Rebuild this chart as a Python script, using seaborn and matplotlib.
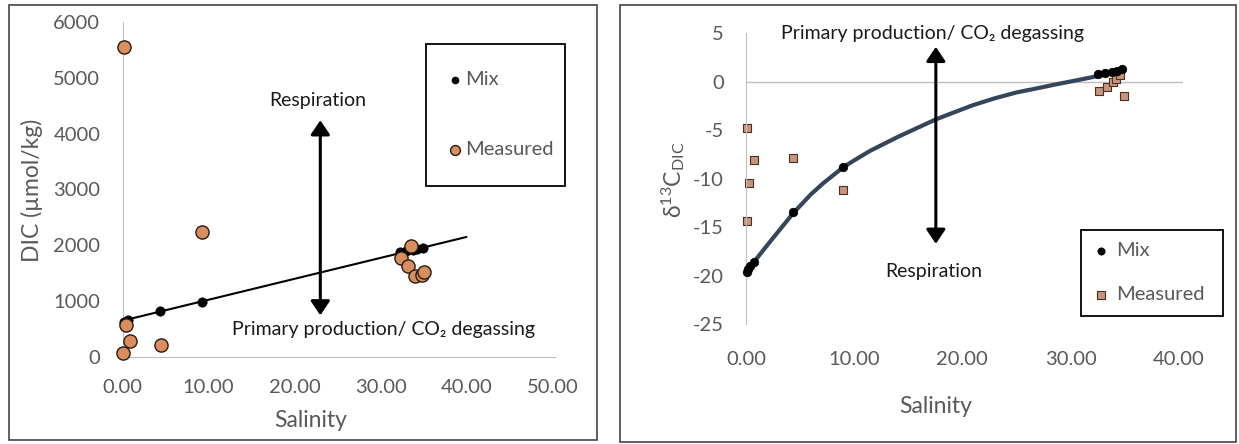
import matplotlib
matplotlib.use("Agg")
import matplotlib.pyplot as plt
from matplotlib.patches import Rectangle
import seaborn as sns

# ---- DIC versus salinity ----
dic_mix_sal = [0.2, 0.6, 4.4, 9.2, 32.3, 33.0, 33.8, 34.3, 34.9]
dic_mix = [620, 670, 820, 990, 1880, 1900, 1925, 1940, 1955]
dic_meas_sal = [0.2, 0.4, 0.9, 0.1, 4.5, 9.2, 32.4, 33.6, 33.2, 34.0, 34.8, 35.1]
dic_meas = [5550, 570, 290, 80, 220, 2230, 1770, 1990, 1630, 1450, 1460, 1530]
dic_trend_sal = [0, 40]
dic_trend = [650, 2150]

# ---- d13C-DIC versus salinity ----
d13_mix_sal = [0.1, 0.2, 0.4, 0.7, 4.3, 9.0, 32.5, 33.2, 33.8, 34.3, 34.8]
d13_mix = [-19.6, -19.3, -19.0, -18.6, -13.4, -8.8, 0.8, 0.9, 1.0, 1.1, 1.3]
d13_meas_sal = [0.07, 0.7, 0.3, 0.07, 4.3, 9.0, 32.6, 33.4, 33.9, 34.2, 34.6, 34.9]
d13_meas = [-4.8, -8.1, -10.4, -14.3, -7.9, -11.2, -1.0, -0.5, 0.0, 0.3, 0.7, -1.5]
curve_sal = [0, 1, 2.5, 4.4, 6, 7.2, 9, 10, 11.5, 14, 17.5, 19, 21, 23, 25, 27,
             28.5, 31, 33, 34.8]
curve_d13 = [-19.7, -18.2, -16.1, -13.5, -11.6, -10.4, -8.8, -8.1, -7.1, -5.7, -3.9,
             -3.25, -2.4, -1.7, -1.1, -0.65, -0.3, 0.25, 0.7, 1.2]

dic_ticks = [0, 1000, 2000, 3000, 4000, 5000, 6000]
d13_ticks = [-25, -20, -15, -10, -5, 0, 5]
sal_ticks_left = [0, 10, 20, 30, 40, 50]
sal_ticks_right = [0, 10, 20, 30, 40]

sns.set_style("white")
plt.rcParams["font.family"] = ["Lato", "DejaVu Sans"]
plt.rcParams["mathtext.fontset"] = "custom"
plt.rcParams["mathtext.rm"] = "Lato"
plt.rcParams["mathtext.it"] = "Lato:italic"

GREY_TXT = "#595959"
AXIS_GREY = "#bfbfbf"
TICK_FS = 14.5
LABEL_FS = 16.5
NOTE_FS = 14
ORANGE = "#d98e5f"
TAN = "#c6957b"

W, H = 1239, 444
fig = plt.figure(figsize=(W / 100, H / 100), dpi=100)

# panel frames
for x0, y0, x1, y1 in [(9, 5, 597, 440), (620, 5, 1236, 442)]:
    fig.add_artist(Rectangle((x0 / W, 1 - y1 / H), (x1 - x0) / W, (y1 - y0) / H,
                             transform=fig.transFigure, fill=False,
                             edgecolor="#444444", linewidth=1.2))

def style_axis(ax):
    for s in ax.spines.values():
        s.set_visible(False)
    ax.tick_params(axis="both", length=0, labelsize=TICK_FS, labelcolor=GREY_TXT)
    ax.set_facecolor("none")

# ---------------- left panel ----------------
ax1 = fig.add_axes([122.5 / W, 1 - 357 / H, 432.6 / W, 335 / H])
style_axis(ax1)
ax1.spines["left"].set_visible(True)
ax1.spines["bottom"].set_visible(True)
ax1.spines["left"].set_color(AXIS_GREY)
ax1.spines["bottom"].set_color(AXIS_GREY)

sns.lineplot(x=dic_trend_sal, y=dic_trend, ax=ax1, color="black", linewidth=1.5, zorder=2)
sns.scatterplot(x=dic_mix_sal, y=dic_mix, ax=ax1, color="black", s=45,
                edgecolor="black", linewidth=0.5, label="Mix", zorder=3, clip_on=False)
sns.scatterplot(x=dic_meas_sal, y=dic_meas, ax=ax1, color=ORANGE, s=90,
                edgecolor="#2a1a10", linewidth=1.0, label="Measured", zorder=4,
                clip_on=False)

ax1.set_xlim(0, 50.3)
ax1.set_ylim(0, 6000)
ax1.set_xticks(sal_ticks_left)
ax1.set_xticklabels([f"{v:.2f}" for v in sal_ticks_left])
ax1.set_yticks(dic_ticks)
ax1.set_yticklabels([str(v) for v in dic_ticks])
ax1.tick_params(axis="both", pad=16)

ax1.set_xlabel("Salinity", fontsize=LABEL_FS, color=GREY_TXT, va="center")
ax1.xaxis.set_label_coords(0.436, -0.191)
ax1.set_ylabel("DIC (µmol/kg)", fontsize=LABEL_FS, color=GREY_TXT, va="center")
ax1.yaxis.set_label_coords(-0.209, 0.4985)

ax1.annotate("", xy=(23, 4240), xytext=(23, 746),
             arrowprops=dict(arrowstyle="<|-|>,head_length=0.43,head_width=0.29",
                             lw=2.2, color="black", mutation_scale=20,
                             shrinkA=0, shrinkB=0))
ax1.text(22.7, 4593, "Respiration", fontsize=NOTE_FS, ha="center", va="center",
         color="#1a1a1a")
ax1.text(30.3, 500, "Primary production/ CO₂ degassing", fontsize=NOTE_FS,
         ha="center", va="center", color="#1a1a1a")

leg1 = ax1.legend(loc="upper left", bbox_to_anchor=(426 / W, 1 - 44 / H, 139 / W, 0),
                  bbox_transform=fig.transFigure, mode="expand", borderaxespad=0,
                  fontsize=TICK_FS, labelcolor=GREY_TXT, frameon=True, fancybox=False,
                  framealpha=1, edgecolor="black", borderpad=1.35, labelspacing=2.63,
                  handlelength=0.2, handletextpad=0.4, markerscale=0.75)
leg1.get_frame().set_linewidth(1.3)

# ---------------- right panel ----------------
ax2 = fig.add_axes([746 / W, 1 - 324.3 / H, 437 / W, 291 / H])
style_axis(ax2)
ax2.spines["left"].set_visible(True)
ax2.spines["left"].set_color(AXIS_GREY)
ax2.axhline(0, color=AXIS_GREY, linewidth=1.0, zorder=1)

sns.scatterplot(x=d13_meas_sal, y=d13_meas, ax=ax2, color=TAN, marker="s", s=38,
                edgecolor="#4a3020", linewidth=0.8, label="Measured", zorder=2,
                clip_on=False)
sns.lineplot(x=curve_sal, y=curve_d13, ax=ax2, color="#36465a", linewidth=3.0,
             zorder=3, clip_on=False)
sns.scatterplot(x=d13_mix_sal, y=d13_mix, ax=ax2, color="black", s=38,
                edgecolor="black", linewidth=0.5, label="Mix", zorder=4, clip_on=False)

ax2.set_xlim(0, 40.4)
ax2.set_ylim(-25, 5)
ax2.set_xticks(sal_ticks_right)
ax2.set_xticklabels([f"{v:.2f}" for v in sal_ticks_right])
ax2.set_yticks(d13_ticks)
ax2.set_yticklabels([str(v) for v in d13_ticks])
ax2.tick_params(axis="y", pad=16)
ax2.tick_params(axis="x", pad=19)

ax2.set_xlabel("Salinity", fontsize=LABEL_FS, color=GREY_TXT, va="center")
ax2.xaxis.set_label_coords(0.435, -0.284)
ax2.set_ylabel(r"$\mathrm{\delta^{13}C_{DIC}}$", fontsize=LABEL_FS, color=GREY_TXT,
               va="center")
ax2.yaxis.set_label_coords(-0.167, 0.496)

ax2.annotate("", xy=(17.55, 3.6), xytext=(17.55, -16.7),
             arrowprops=dict(arrowstyle="<|-|>,head_length=0.43,head_width=0.29",
                             lw=2.2, color="black", mutation_scale=20,
                             shrinkA=0, shrinkB=0))
ax2.text(17.2, 5.0, "Primary production/ CO₂ degassing", fontsize=NOTE_FS,
         ha="center", va="center", color="#1a1a1a", clip_on=False)
ax2.text(17.4, -19.6, "Respiration", fontsize=NOTE_FS, ha="center", va="center",
         color="#1a1a1a")

handles, labels = ax2.get_legend_handles_labels()
order = [labels.index("Mix"), labels.index("Measured")]
leg2 = ax2.legend([handles[i] for i in order], [labels[i] for i in order],
                  loc="upper left", bbox_to_anchor=(1081 / W, 1 - 230 / H, 142 / W, 0),
                  bbox_transform=fig.transFigure, mode="expand", borderaxespad=0,
                  fontsize=TICK_FS, labelcolor=GREY_TXT, frameon=True, fancybox=False,
                  framealpha=1, edgecolor="black", borderpad=0.6, labelspacing=1.35,
                  handlelength=0.8, handletextpad=0.33, markerscale=0.85)
leg2.get_frame().set_linewidth(1.3)

fig.savefig("out.png", dpi=100, facecolor="white")
